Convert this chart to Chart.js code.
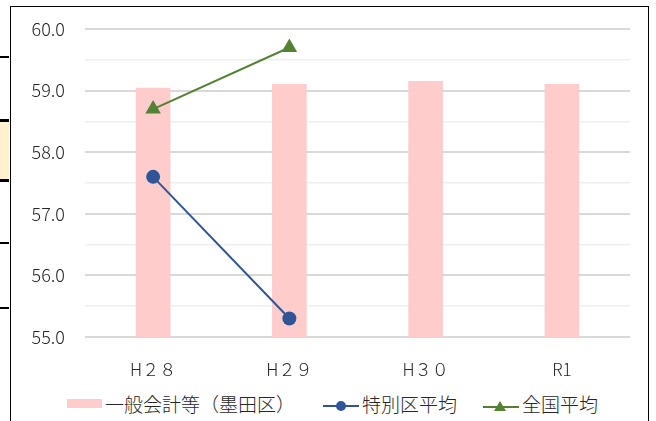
<!DOCTYPE html>
<html lang="ja">
<head>
<meta charset="utf-8">
<script src="https://cdn.jsdelivr.net/npm/chart.js@4"></script>
<style>
  html,body{margin:0;padding:0;background:#fff;}
  body{width:656px;height:421px;position:relative;overflow:hidden;font-family:"Noto Sans CJK JP",sans-serif;}
  .frame{position:absolute;left:10px;top:6px;width:639px;height:430px;border:1px solid #000;box-sizing:border-box;}
  .side{position:absolute;left:0;width:9px;background:#000;}
  .note{position:absolute;left:0;top:119px;width:9px;height:63px;background:#FFF2CC;border-top:3px solid #000;border-bottom:3px solid #000;box-sizing:border-box;}
  #wrap{position:absolute;left:11px;top:7px;width:638px;height:370px;}
  .lg{position:absolute;top:391px;height:24px;display:flex;align-items:center;font-size:19px;font-weight:300;color:#262626;white-space:nowrap;}
  .lg i{display:inline-block;margin-right:3px;}
</style>
</head>
<body>
<!-- 左側の表の切れ端 -->
<div class="side" style="top:56px;height:2px"></div>
<div class="note"></div>
<div class="side" style="top:242px;height:2px"></div>
<div class="side" style="top:307px;height:2px"></div>
<div class="frame"></div>

<div id="wrap"><canvas id="c"></canvas></div>

<div class="lg" style="left:67px"><i style="width:35px;height:9px;background:#FFCCCC"></i>一般会計等（墨田区）</div>
<div class="lg" style="left:323px"><i><svg width="36" height="12"><line x1="0" y1="6" x2="36" y2="6" stroke="#2F5597" stroke-width="2"/><circle cx="18" cy="6" r="5" fill="#2F5597"/></svg></i>特別区平均</div>
<div class="lg" style="left:483px"><i><svg width="36" height="12"><line x1="0" y1="7" x2="36" y2="7" stroke="#548235" stroke-width="2"/><polygon points="17,1 23,11 11,11" fill="#548235"/></svg></i>全国平均</div>

<script>
/* 経常収支比率など（単位：％）— 画像から読み取り */
const YEARS    = ['H２８','H２９','H３０','R1'];
const SUMIDA   = [59.04, 59.1, 59.15, 59.1];   // 一般会計等（墨田区）
const TOKUBETU = [57.6, 55.3, null, null];     // 特別区平均
const ZENKOKU  = [58.7, 59.7, null, null];     // 全国平均
const Y_MIN = 55, Y_MAX = 60, Y_STEP = 0.5;

const TXT = '#262626';
const FONT = "'Noto Sans CJK JP',sans-serif";

new Chart(document.getElementById('c'),{
  type:'bar',
  data:{
    labels:YEARS,
    datasets:[
      {type:'bar',label:'一般会計等（墨田区）',data:SUMIDA,backgroundColor:'#FFCCCC',barThickness:34,order:2},
      {type:'line',label:'特別区平均',data:TOKUBETU,borderColor:'#2F5597',backgroundColor:'#2F5597',
        borderWidth:2,pointRadius:7,pointStyle:'circle',pointBorderWidth:0,tension:0,order:1},
      {type:'line',label:'全国平均',data:ZENKOKU,borderColor:'#548235',backgroundColor:'#548235',
        borderWidth:2,pointRadius:9,pointStyle:'triangle',pointBorderWidth:0,tension:0,order:0}
    ]
  },
  options:{
    responsive:true,maintainAspectRatio:false,animation:false,
    layout:{padding:{top:22,right:19,left:0,bottom:0}},
    plugins:{legend:{display:false},tooltip:{enabled:false}},
    scales:{
      x:{
        grid:{display:false},border:{display:false},
        ticks:{color:TXT,font:{family:FONT,size:17,weight:300},padding:14,maxRotation:0},
        afterFit:s=>{s.height=40;}
      },
      y:{
        min:Y_MIN,max:Y_MAX,
        border:{display:false},
        grid:{drawTicks:false,
          color:c=>Number.isInteger(c.tick.value)?'#D9D9D9':'#EFEFEF',
          lineWidth:c=>Number.isInteger(c.tick.value)?2:1.5},
        ticks:{stepSize:Y_STEP,color:TXT,font:{family:FONT,size:18,weight:300},padding:20,
          callback:v=>Number.isInteger(v)?v.toFixed(1):''},
        // 目盛ラベル分の上下余白は layout.padding で管理
        afterFit:s=>{s.width=74;s.paddingTop=0;s.paddingBottom=0;}
      }
    }
  }
});
</script>
</body>
</html>
